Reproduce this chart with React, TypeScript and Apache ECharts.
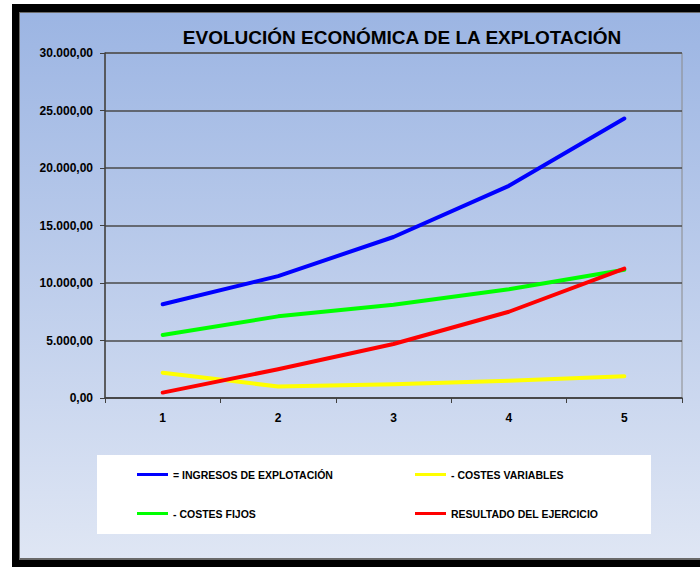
import React, { useEffect, useRef } from "react";
import * as echarts from "echarts";

const categories = ["1", "2", "3", "4", "5"];
const ingresos = [8150, 10600, 14000, 18450, 24300];
const costesVariables = [2200, 1000, 1200, 1500, 1900];
const costesFijos = [5480, 7100, 8100, 9450, 11150];
const resultado = [470, 2500, 4700, 7500, 11250];

const seriesNames = [
  "= INGRESOS DE EXPLOTACIÓN",
  "- COSTES VARIABLES",
  "- COSTES FIJOS",
  "RESULTADO DEL EJERCICIO",
];
const seriesColors = ["#0000ff", "#ffff00", "#00ff00", "#ff0000"];
const seriesData = [ingresos, costesVariables, costesFijos, resultado];

const FONT = "'Liberation Sans', Arial, sans-serif";

function fmt(v: number): string {
  return Math.round(v).toString().replace(/\B(?=(\d{3})+(?!\d))/g, ".") + ",00";
}

export default function App() {
  const ref = useRef<HTMLDivElement>(null);
  useEffect(() => {
    if (!ref.current) return;
    const chart = echarts.init(ref.current, null, { renderer: "svg" });
    const legendPos = [
      { left: 137, top: 469 },
      { left: 415, top: 469 },
      { left: 137, top: 508 },
      { left: 415, top: 508 },
    ];
    chart.setOption({
      animation: false,
      backgroundColor: "#ffffff",
      title: {
        text: "EVOLUCIÓN ECONÓMICA DE LA EXPLOTACIÓN",
        left: 402,
        top: 28,
        textAlign: "center",
        padding: 0,
        textStyle: { fontSize: 19, fontWeight: "bold", color: "#000", fontFamily: FONT },
      },
      graphic: [
        { type: "rect", z: -10, shape: { x: 12, y: 4, width: 700, height: 563 }, style: { fill: "#000" } },
        { type: "rect", z: -9, shape: { x: 19, y: 12, width: 700, height: 548 }, style: { fill: "#6a6a6a" } },
        {
          type: "rect",
          z: -8,
          shape: { x: 20, y: 13, width: 700, height: 545 },
          style: {
            fill: new echarts.graphic.LinearGradient(0, 0, 0, 1, [
              { offset: 0, color: "#9cb5e3" },
              { offset: 1, color: "#dfe6f4" },
            ]),
          },
        },
        { type: "rect", z: -7, shape: { x: 97, y: 455, width: 554, height: 79 }, style: { fill: "#ffffff" } },
      ],
      legend: seriesNames.map((n, i) => ({
        data: [n],
        left: legendPos[i].left,
        top: legendPos[i].top,
        padding: 0,
        icon: "rect",
        itemWidth: 31,
        itemHeight: 3,
        itemGap: 5,
        selectedMode: false,
        textStyle: { fontSize: 10.5, fontWeight: "bold", color: "#000", fontFamily: FONT, padding: [0, 0, 0, 0] },
      })),
      grid: {
        left: 105,
        right: 18,
        top: 53,
        bottom: 169,
        show: true,
        borderColor: "#8a8a8a",
        borderWidth: 1,
        backgroundColor: "transparent",
      },
      xAxis: {
        type: "category",
        data: categories,
        boundaryGap: true,
        axisLine: { show: true, lineStyle: { color: "#404040", width: 1.5 } },
        axisTick: { show: true, length: 5, lineStyle: { color: "#404040" } },
        axisLabel: { margin: 14, fontSize: 12, fontWeight: "bold", color: "#000", fontFamily: FONT },
        splitLine: { show: false },
      },
      yAxis: {
        type: "value",
        min: 0,
        max: 30000,
        interval: 5000,
        axisLine: { show: true, lineStyle: { color: "#404040", width: 1.5 } },
        axisTick: { show: true, length: 5, lineStyle: { color: "#404040" } },
        axisLabel: {
          margin: 12,
          fontSize: 12,
          fontWeight: "bold",
          color: "#000",
          fontFamily: FONT,
          formatter: (v: number) => fmt(v),
        },
        splitLine: { show: true, lineStyle: { color: "#4a4a4a", width: 1.5 } },
      },
      series: seriesNames.map((n, i) => ({
        name: n,
        type: "line",
        data: seriesData[i],
        showSymbol: false,
        symbol: "none",
        smooth: false,
        color: seriesColors[i],
        lineStyle: { color: seriesColors[i], width: 4, cap: "round", join: "round" },
        z: i === 0 ? 3 : i === 1 ? 2 : i === 2 ? 3 : 4,
      })),
    });
    return () => chart.dispose();
  }, []);
  return (
    <div
      ref={ref}
      style={{ position: "absolute", left: 0, top: 0, width: 700, height: 567 }}
    />
  );
}
